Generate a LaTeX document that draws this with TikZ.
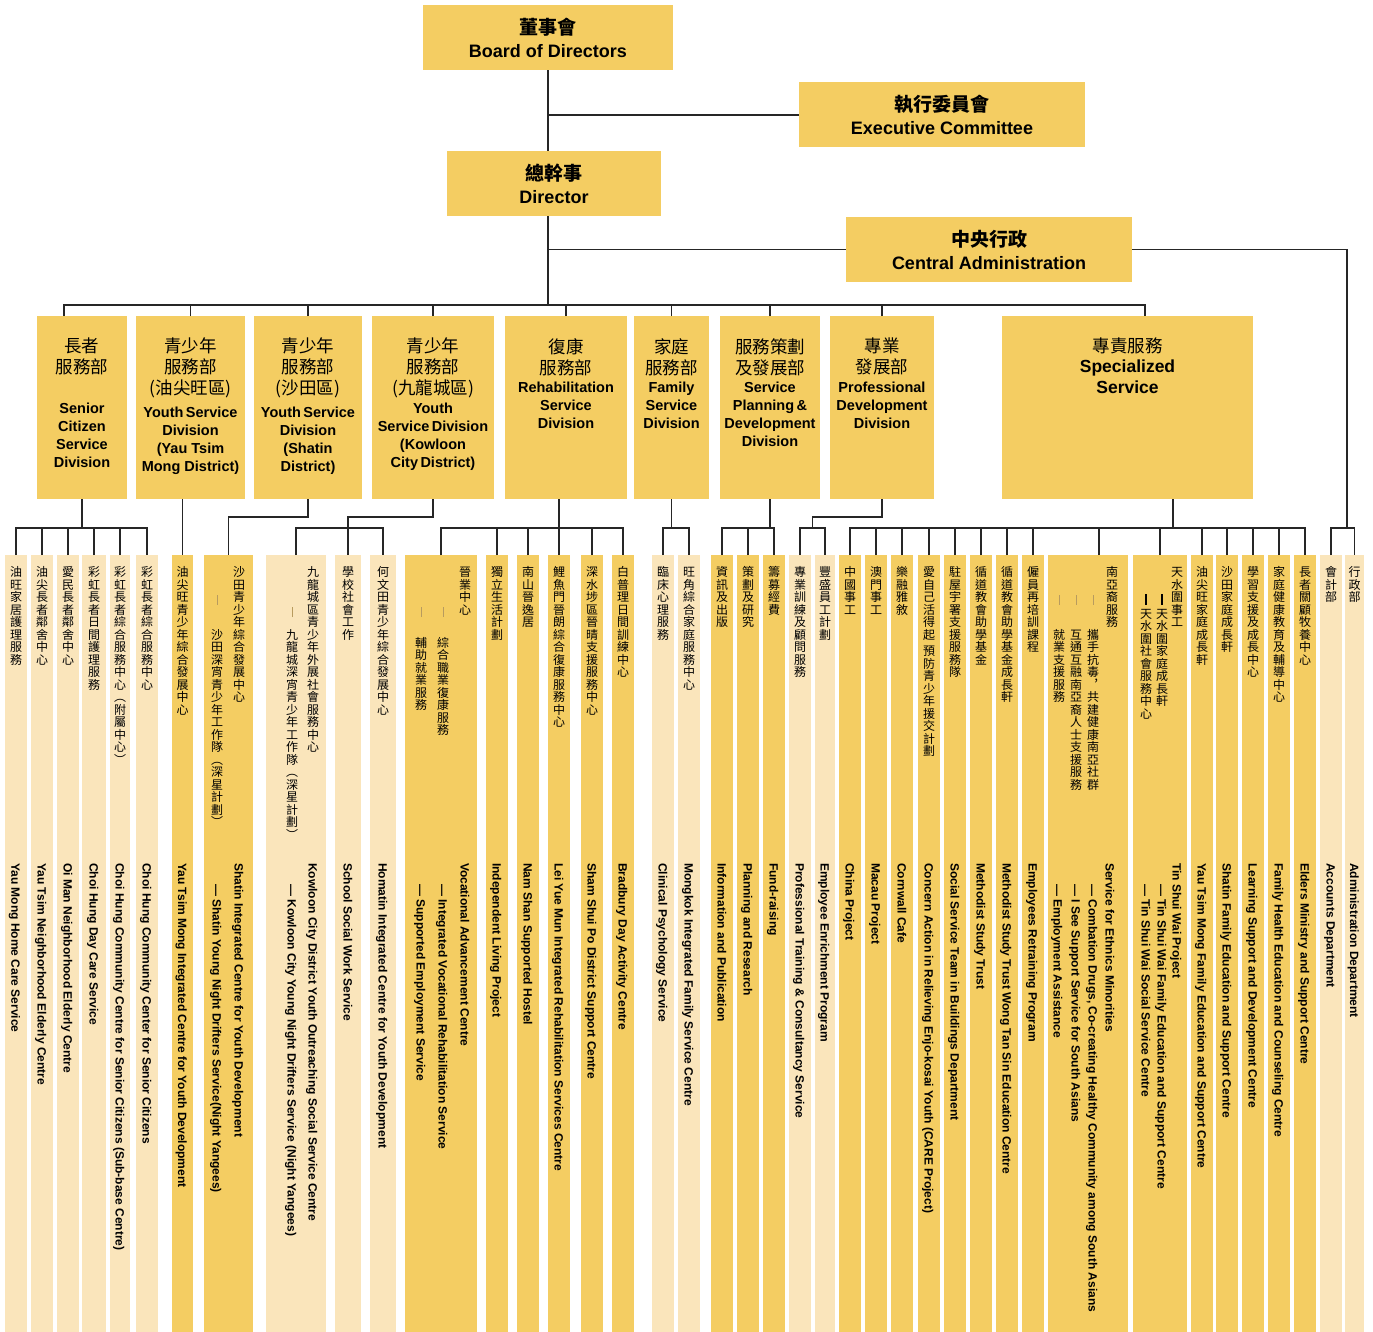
\documentclass[tikz,border=0pt]{standalone}
\usepackage{fontspec}
\setmainfont{Liberation Sans}
\newfontfamily\cjk{Noto Sans CJK TC}
\usetikzlibrary{calc}

\definecolor{gold}{HTML}{F4CD62}
\definecolor{pale}{HTML}{FAE5BB}
\definecolor{dashtan}{HTML}{B89B5E}

% vertical chinese, one character per line
\newcommand\vtextend{}
\newcommand\vg{\relax gap}
\newcommand\vd{\textcolor{dashtan}{\rule[-3pt]{0.9pt}{10pt}}}
\newcommand\vdk{\rule[-3pt]{1.3pt}{11pt}}
\newcommand\vtextchar[1]{\hbox to 12pt{\hss\vrule width 0pt height 10.5pt depth 2pt #1\hss}}
\def\vtextloop#1{\ifx#1\vtextend\else\ifx#1\vg\vskip4pt\else\vtextchar{#1}\fi\expandafter\vtextloop\fi}
\newcommand\vtext[1]{\vbox{\baselineskip=12.5pt\lineskiplimit=-20pt\lineskip=0pt\expandafter\vtextloop#1\vtextend}}

\tikzset{
	topbox/.style={fill=gold, minimum width=#1, minimum height=65pt, inner sep=0pt, align=center, font=\bfseries\fontsize{18}{23}\selectfont},
	divbox/.style={fill=gold, minimum width=#1, minimum height=183pt, inner sep=0pt, anchor=north},
	divcn/.style={anchor=north, inner sep=0pt, align=center, font=\cjk\fontsize{17.5}{21}\selectfont},
	diven/.style={anchor=north, inner sep=0pt, align=center, font=\bfseries\fontsize{14.5}{18}\selectfont},
	colbox/.style={anchor=north, minimum height=777pt, inner sep=0pt},
	cntext/.style={anchor=north, inner sep=0pt, font=\cjk\fontsize{12}{12.5}\selectfont},
	entext/.style={rotate=-90, anchor=west, inner sep=0pt, text height=9pt, text depth=0pt, font=\bfseries\fontsize{12}{14}\selectfont},
	link/.style={line width=1.2pt, black!85},
}

\begin{document}
\begin{tikzpicture}[x=1pt, y=-1pt]
	\useasboundingbox (0,0) rectangle (1373,1332);
	\coordinate (busT) at (0,305);
	\coordinate (busA) at (0,517);
	\coordinate (busB) at (0,528);
	\coordinate (adm) at (1347,528);

	% top of the chart
	\node[topbox=250] (board) at (548,37.5) {{\cjk\bfseries\fontsize{19}{23}\selectfont 董事會}\\Board of Directors};
	\node[topbox=286] (exec) at (942,115) {{\cjk\bfseries\fontsize{19}{23}\selectfont 執行委員會}\\Executive Committee};
	\node[topbox=214] (dir) at (554,183.5) {{\cjk\bfseries\fontsize{19}{23}\selectfont 總幹事}\\Director};
	\node[topbox=286] (central) at (989,249.5) {{\cjk\bfseries\fontsize{19}{23}\selectfont 中央行政}\\Central Administration};

	\draw[link] (board.south) -- (board.south |- dir.north);
	\draw[link] (exec.west) -- (exec.west -| board.south);
	\draw[link] (board.south |- dir.south) -- (board.south |- busT);
	\draw[link] (central.west) -- (central.west -| board.south);
	\draw[link] (central.east) -| (adm);

	% divisions
	\node[divbox=90] (senior) at (82,316) {};
	\node[divbox=109] (ytm) at (190.5,316) {};
	\node[divbox=108] (shatin) at (308,316) {};
	\node[divbox=122] (kc) at (433,316) {};
	\node[divbox=122] (rehab) at (566,316) {};
	\node[divbox=75] (family) at (671.5,316) {};
	\node[divbox=100] (planning) at (770,316) {};
	\node[divbox=104] (prof) at (882,316) {};
	\node[divbox=251] (spec) at (1127.5,316) {};

	\node[divcn] (seniorcn) at (82,338) {長者\\服務部};
	\node[diven] (senioren) at (82,402.5) {Senior\\Citizen\\Service\\Division};
	\node[divcn] (ytmcn) at (190.5,338) {青少年\\服務部\\(油尖旺區)};
	\node[diven] (ytmen) at (190.5,406.5) {Youth\,Service\\Division\\(Yau Tsim\\Mong District)};
	\node[divcn] (shatincn) at (308,338) {青少年\\服務部\\(沙田區)};
	\node[diven] (shatinen) at (308,406.5) {Youth\,Service\\Division\\(Shatin\\District)};
	\node[divcn] (kccn) at (433,338) {青少年\\服務部\\(九龍城區)};
	\node[diven] (kcen) at (433,402.5) {Youth\\Service\,Division\\(Kowloon\\City\,District)};
	\node[divcn] (rehabcn) at (566,338) {復康\\服務部};
	\node[diven] (rehaben) at (566,381.5) {Rehabilitation\\Service\\Division};
	\node[divcn] (familycn) at (671.5,338) {家庭\\服務部};
	\node[diven] (familyen) at (671.5,381.5) {Family\\Service\\Division};
	\node[divcn] (planningcn) at (770,338) {服務策劃\\及發展部};
	\node[diven] (planningen) at (770,381.5) {Service\\Planning\,\&\\Development\\Division};
	\node[divcn] (profcn) at (882,338) {專業\\發展部};
	\node[diven] (profen) at (882,381.5) {Professional\\Development\\Division};
	\node[divcn] (speccn) at (1127.5,338) {專責服務};
	\node[diven, font=\bfseries\fontsize{17.5}{21}\selectfont] (specen) at (1127.5,360) {Specialized\\Service};

	\draw[link] ([xshift=-18]senior.north) -- ++(0,-11) -| ([xshift=17.5]spec.north);
	\foreach \n in {ytm,shatin,kc,rehab,family,planning,prof}
		\draw[link] (\n.north) -- (\n.north |- busT);

	% service units
	\foreach \i/\l/\r/\c in {1/5/27/pale, 2/31/53/pale, 3/57/79/pale, 4/82/106/pale, 5/110/130/pale, 6/136/158/pale,
		7/172/193/gold, 8/204/253/gold, 9/266/326/pale, 10/335/361/pale, 11/370/396/pale,
		12/405/477/gold, 13/486/508/gold, 14/517/539/gold, 15/548/570/gold, 16/581/603/gold, 17/612/634/gold,
		18/652/674/pale, 19/678/700/pale, 20/711/733/gold, 21/737/759/gold, 22/763/785/gold,
		23/789/811/pale, 24/815/835/pale, 25/839/861/gold, 26/865/887/gold, 27/891/913/gold,
		28/918/940/gold, 29/944/966/gold, 30/970/992/gold, 31/996/1018/gold, 32/1022/1044/gold,
		33/1048/1128/gold, 34/1133/1187/gold, 35/1191/1213/gold, 36/1216/1238/gold, 37/1242/1264/gold,
		38/1268/1290/gold, 39/1294/1316/gold, 40/1320/1342/pale, 41/1345/1364/pale}
		\node[colbox, fill=\c, minimum width={\r-\l}] (c\i) at ({(\l+\r)/2},555) {};

	\foreach \i/\zh/\eng in {1/油旺家居護理服務/Yau Mong Home Care Service,
		2/油尖長者鄰舍中心/Yau Tsim Neighborhood Elderly Centre,
		3/愛民長者鄰舍中心/Oi Man Neighborhood Elderly Centre,
		4/彩虹長者日間護理服務/Choi Hung Day Care Service,
		5/彩虹長者綜合服務中心︵附屬中心︶/Choi Hung Community Centre for Senior Citizens (Sub-base Centre),
		6/彩虹長者綜合服務中心/Choi Hung Community Center for Senior Citizens,
		7/油尖旺青少年綜合發展中心/Yau Tsim Mong Integrated Centre for Youth Development,
		10/學校社會工作/School Social Work Service,
		11/何文田青少年綜合發展中心/Homatin Integrated Centre for Youth Development,
		13/獨立生活計劃/Independent Living Project,
		14/南山晉逸居/Nam Shan Supported Hostel,
		15/鯉魚門晉朗綜合復康服務中心/Lei Yue Mun Integrated Rehabilitation Services Centre,
		16/深水埗區晉晴支援服務中心/Sham Shui Po District Support Centre,
		17/白普理日間訓練中心/Bradbury Day Activity Centre,
		18/臨床心理服務/Clinical Psychology Service,
		19/旺角綜合家庭服務中心/Mongkok Integrated Family Service Centre,
		20/資訊及出版/Information and Publication,
		21/策劃及研究/Planning and Research,
		22/籌募經費/Fund-raising,
		23/專業訓練及顧問服務/Professional Training \& Consultancy Service,
		24/豐盛員工計劃/Employee Enrichment Program,
		25/中國事工/China Project,
		26/澳門事工/Macau Project,
		27/樂融雅敘/Cornwall Cafe,
		28/愛自己活得起\vg 預防青少年援交計劃/Concern Action in Relieving Enjo-kosai Youth (CARE Project),
		29/駐屋宇署支援服務隊/Social Service Team in Buildings Department,
		30/循道教會助學基金/Methodist Study Trust,
		31/循道教會助學基金成長軒/Methodist Study Trust Wong Tan Sin Education Centre,
		32/僱員再培訓課程/Employees Retraining Program,
		35/油尖旺家庭成長軒/Yau Tsim Mong Family Education and Support Centre,
		36/沙田家庭成長軒/Shatin Family Education and Support Centre,
		37/學習支援及成長中心/Learning Support and Development Centre,
		38/家庭健康教育及輔導中心/Family Health Education and Counseling Centre,
		39/長者關顧牧養中心/Elders Ministry and Support Centre,
		40/會計部/Accounts Department,
		41/行政部/Administration Department}
	{
		\node[cntext] (z\i) at (c\i.north |- 0,566) {\vtext{\zh}};
		\node[entext] (e\i) at (c\i.north |- 0,863) {\eng};
	}

	% units with sub-units
	\node[cntext] (z8a) at (239,566) {\vtext{沙田青少年綜合發展中心}};
	\node[cntext] (z8b) at (217,566) {\vtext{　　\vd　　沙田深宵青少年工作隊︵深星計劃︶}};
	\node[entext] (e8a) at (239,863) {Shatin Integrated Centre for Youth Development};
	\node[entext] (e8b) at (217,884) {--- Shatin Young Night Drifters Service(Night Yangees)};

	\node[cntext] (z9a) at (313,566) {\vtext{九龍城區青少年外展社會服務中心}};
	\node[cntext] (z9b) at (292,566) {\vtext{　　　\vd　九龍城深宵青少年工作隊︵深星計劃︶}};
	\node[entext] (e9a) at (313,863) {Kowloon City District Youth Outreaching Social Service Centre};
	\node[entext] (e9b) at (292,884) {--- Kowloon City Young Night Drifters Service (Night Yangees)};

	\node[cntext] (z12a) at (465,566) {\vtext{晉業中心}};
	\node[cntext] (z12b) at (443,566) {\vtext{　　　\vd　\vg\vg 綜合職業復康服務}};
	\node[cntext] (z12c) at (421,566) {\vtext{　　　\vd　\vg\vg 輔助就業服務}};
	\node[entext] (e12a) at (465,863) {Vocational Advancement Centre};
	\node[entext] (e12b) at (443,884) {--- Integrated Vocational Rehabilitation Service};
	\node[entext] (e12c) at (421,884) {--- Supported Employment Service};

	\node[cntext] (z33a) at (1112,566) {\vtext{南亞裔服務}};
	\node[cntext] (z33b) at (1093,566) {\vtext{　　\vd　　攜手抗毒︐共建健康南亞社群}};
	\node[cntext] (z33c) at (1076,566) {\vtext{　　\vd　　互通互融南亞裔人士支援服務}};
	\node[cntext] (z33d) at (1059,566) {\vtext{　　\vd　　就業支援服務}};
	\node[entext] (e33a) at (1110,863) {Service for Ethnics Minorities};
	\node[entext] (e33b) at (1093,884) {--- Combation Drugs, Co-creating Healthy Community among South Asians};
	\node[entext] (e33c) at (1076,884) {--- I See Support Service for South Asians};
	\node[entext] (e33d) at (1058,884) {--- Employment Assistance};

	\node[cntext] (z34a) at (1177,566) {\vtext{天水圍事工}};
	\node[cntext] (z34b) at (1162,566) {\vtext{　　\vdk\vg 天水圍家庭成長軒}};
	\node[cntext] (z34c) at (1146,566) {\vtext{　　\vdk\vg 天水圍社會服務中心}};
	\node[entext] (e34a) at (1177,863) {Tin Shui Wai Project};
	\node[entext] (e34b) at (1162,884) {--- Tin Shui Wai Family Education and Support Centre};
	\node[entext] (e34c) at (1146,884) {--- Tin Shui Wai Social Service Centre};

	% links down to the units
	\draw[link] (senior.south) -- (senior.south |- busB);
	\draw[link] (c1.north) |- (c6.north |- busB) -- (c6.north);
	\foreach \i in {2,...,5} \draw[link] (c\i.north) -- (c\i.north |- busB);
	\draw[link] (ytm.south -| c7.north) -- (c7.north);
	\draw[link] (shatin.south) |- (c8.north |- busA) -- (c8.north);
	\draw[link] (kc.south) |- (c10.north |- busA) -- (c10.north);
	\draw[link] (c9.north) |- (c11.north |- busB) -- (c11.north);
	\draw[link] (rehab.south -| c15.north) -- (c15.north);
	\draw[link] (c12.north) |- (c17.north |- busB) -- (c17.north);
	\foreach \i in {13,14,16} \draw[link] (c\i.north) -- (c\i.north |- busB);
	\draw[link] (family.south) -- (family.south |- busB);
	\draw[link] (c18.north) |- (c19.north |- busB) -- (c19.north);
	\draw[link] (planning.south) -- (planning.south |- busB);
	\draw[link] (c20.north) |- (c22.north |- busB) -- (c22.north);
	\draw[link] (c21.north) -- (c21.north |- busB);
	\coordinate (profmid) at ($(c23.north)!0.5!(c24.north)$);
	\draw[link] (prof.south) |- (profmid |- busA) -- (profmid |- busB);
	\draw[link] (c23.north) |- (c24.north |- busB) -- (c24.north);
	\draw[link] ([xshift=45.5]spec.south) -- ++(0,29);
	\draw[link] (c25.north) |- (c39.north |- busB) -- (c39.north);
	\foreach \i in {26,27,28,29,30,31,32,34,35,36,37,38} \draw[link] (c\i.north) -- (c\i.north |- busB);
	\draw[link] ([xshift=11]c33.north) -- ++(0,-27);
	\draw[link] (c40.north) |- (c41.north |- busB) -- (c41.north);
\end{tikzpicture}
\end{document}
